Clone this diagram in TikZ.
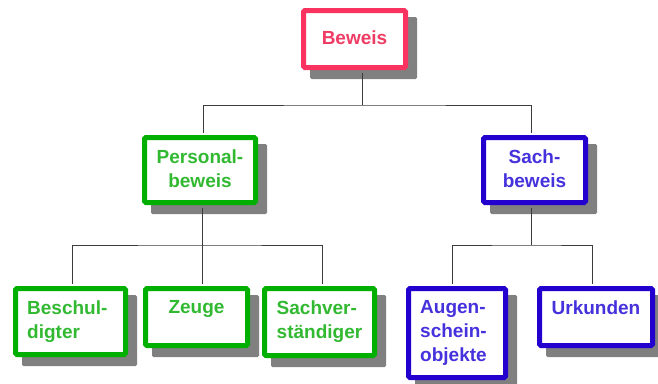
\documentclass[tikz,border=0pt]{standalone}
\usepackage{fontspec}
\setmainfont{Liberation Sans}
\definecolor{redb}{RGB}{250,50,95}
\definecolor{redt}{RGB}{240,60,100}
\definecolor{greenb}{RGB}{0,175,0}
\definecolor{greent}{RGB}{50,185,50}
\definecolor{blueb}{RGB}{35,0,205}
\definecolor{bluet}{RGB}{70,50,220}
\definecolor{shadowc}{RGB}{128,128,128}
\definecolor{linec}{RGB}{60,60,60}
\newcommand\mkbox[8]{%
  \fill[shadowc, rounded corners=1.5pt] (#2+9,#3+9) rectangle (#4+9,#5+9);
  \node[boxst, draw=#6, minimum width={#4-#2-5}, minimum height={#5-#3-5}] (#1) at ({(#2+#4)/2},{(#3+#5)/2}) {};
  \node[txtst, text=#7, anchor=north] (#1-t) at ([yshift=-14.5pt]#1.north) {#8};
}
\newcommand\mkboxl[9]{%
  \fill[shadowc, rounded corners=1.5pt] (#2+9,#3+9) rectangle (#4+9,#5+9);
  \node[boxst, draw=#6, minimum width={#4-#2-5}, minimum height={#5-#3-5}] (#1) at ({(#2+#4)/2},{(#3+#5)/2}) {};
  \node[txtst, align=left, text=#7, anchor=north west] (#1-t) at ([xshift=#9,yshift=-14.5pt]#1.north west) {#8};
}
\begin{document}
\begin{tikzpicture}[x=1pt,y=-1pt,
  boxst/.style={line width=5pt, rounded corners=1.5pt, fill=white, inner sep=0pt},
  txtst/.style={font=\fontsize{19}{24}\selectfont\bfseries, align=center, inner sep=0pt},
  conn/.style={draw=linec, line width=1pt}]
\useasboundingbox (0,0) rectangle (658,383);
\coordinate (j1) at (362,105);
\coordinate (j2) at (202,245);
\coordinate (j3) at (531,245);
% boxes
\fill[shadowc, rounded corners=1.5pt] (310,17) rectangle (417,79);
\node[boxst, draw=redb, minimum width=102pt, minimum height=57pt] (beweis) at (354.5,39) {};
\node[txtst, text=redt, anchor=north] (beweis-t) at ([yshift=-22.5pt]beweis.north) {Beweis};
\mkbox{personal}{142}{135}{258}{205}{greenb}{greent}{Personal-\\beweis}
\mkbox{sach}{481}{135}{588}{205}{blueb}{bluet}{Sach-\\beweis}
\mkboxl{beschul}{13}{286}{128}{357}{greenb}{greent}{Beschul-\\digter}{14pt}
\mkbox{zeuge}{143}{286}{250}{348}{greenb}{greent}{Zeuge}
\mkboxl{sachv}{262}{286}{377}{358}{greenb}{greent}{Sachver-\\ständiger}{14.5pt}
\mkboxl{augen}{406}{286}{508}{380}{blueb}{bluet}{Augen-\\schein-\\objekte}{14pt}
\mkbox{urk}{537}{286}{655}{348}{blueb}{bluet}{Urkunden}
% connectors
\draw[conn] ([xshift=7.5pt,yshift=-2.5pt]beweis.south) -- (j1);
\draw[conn] ([xshift=3pt,yshift=2.5pt]personal.north) |- (j1) -| ([xshift=-3.5pt,yshift=2.5pt]sach.north);
\draw[conn] ([xshift=2pt,yshift=-2.5pt]personal.south) -- (j2);
\draw[conn] ([xshift=1.5pt,yshift=2.5pt]beschul.north) |- (j2) -| ([xshift=2.5pt,yshift=2.5pt]sachv.north);
\draw[conn] (j2) -- ([xshift=5.5pt,yshift=2.5pt]zeuge.north);
\draw[conn] ([xshift=-3.5pt,yshift=-2.5pt]sach.south) -- (j3);
\draw[conn] ([xshift=-5pt,yshift=2.5pt]augen.north) |- (j3) -| ([xshift=-4pt,yshift=2.5pt]urk.north);
\end{tikzpicture}
\end{document}
